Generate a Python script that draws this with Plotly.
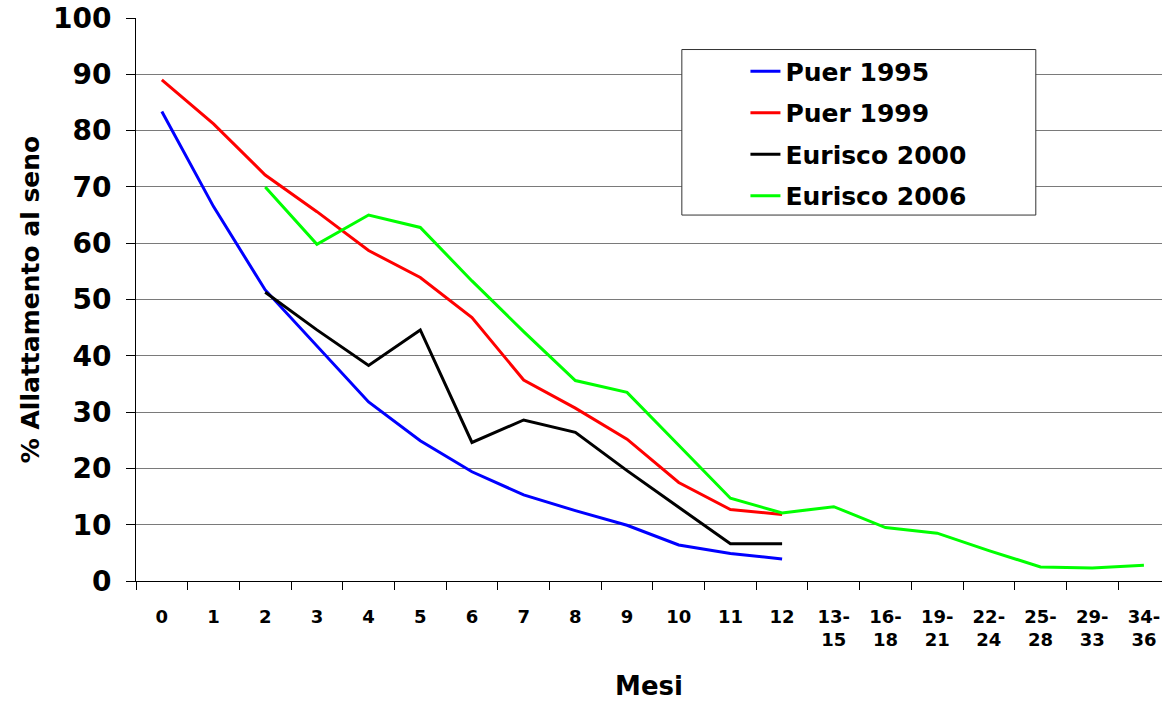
import plotly.graph_objects as go

# ── Data ──────────────────────────────────────────────────────────────────────
mesi = [str(i) for i in range(13)] + [
    "13-<br>15", "16-<br>18", "19-<br>21", "22-<br>24",
    "25-<br>28", "29-<br>33", "34-<br>36",
]

puer_1995 = [83.4, 66.5, 51.7, 41.8, 31.8, 24.9, 19.4, 15.3, 12.5, 9.9, 6.4, 4.9, 3.9]
puer_1999 = [89.0, 81.2, 72.1, 65.6, 58.7, 53.9, 46.8, 35.7, 30.7, 25.2, 17.5, 12.7, 11.8]
eurisco_2000 = [None, None, 51.3, 44.6, 38.3, 44.6, 24.6, 28.6, 26.4, 19.6, 13.1, 6.6, 6.6]
eurisco_2006 = [None, None, 70.0, 59.8, 65.0, 62.8, 53.3, 44.3, 35.6, 33.5, 24.1, 14.7, 12.1,
                13.2, 9.5, 8.5, 5.4, 2.5, 2.3, 2.8]

series = [
    ("Puer 1995", puer_1995, "#0000FF"),
    ("Puer 1999", puer_1999, "#FF0000"),
    ("Eurisco 2000", eurisco_2000, "#000000"),
    ("Eurisco 2006", eurisco_2006, "#00FF00"),
]

# ── Style ─────────────────────────────────────────────────────────────────────
_FONT = "DejaVu Sans, Verdana, sans-serif"
_GRID = "#7a7a7a"

fig = go.Figure()

for name, vals, color in series:
    fig.add_trace(go.Scatter(
        name=name,
        x=mesi[:len(vals)],
        y=vals,
        mode="lines",
        line=dict(color=color, width=3),
        legendgroup=name,
        connectgaps=False,
    ))

fig.update_layout(
    width=1162,
    height=701,
    margin=dict(t=18, b=120, l=136, r=0),
    plot_bgcolor="white",
    paper_bgcolor="white",
    font=dict(family=_FONT, color="black"),
    showlegend=True,
    legend=dict(
        x=0.594, y=0.946, xanchor="left", yanchor="top",
        bgcolor="rgba(0,0,0,0)",
        borderwidth=0,
        font=dict(family=_FONT, size=25, weight="bold", color="black"),
        tracegroupgap=6,
    ),
    xaxis=dict(
        type="category",
        categoryorder="array",
        categoryarray=mesi,
        range=[-0.5, 19.35],
        automargin=False,
        showgrid=False,
        showline=True,
        linecolor="black",
        linewidth=1,
        ticks="outside",
        tickson="boundaries",
        ticklen=8,
        tickcolor="black",
        tickfont=dict(family=_FONT, size=18, weight="bold", color="black"),
        ticklabelstandoff=19,
        title=dict(text="Mesi", font=dict(family=_FONT, size=26, weight="bold"), standoff=30),
        zeroline=False,
    ),
    yaxis=dict(
        range=[0, 100],
        dtick=10,
        automargin=False,
        showgrid=True,
        gridcolor=_GRID,
        gridwidth=1,
        showline=True,
        linecolor="black",
        linewidth=1,
        ticks="outside",
        ticklen=9,
        tickcolor="black",
        tickfont=dict(family=_FONT, size=28, weight="bold", color="black"),
        ticklabelstandoff=9,
        title=dict(text="% Allattamento al seno", font=dict(family=_FONT, size=25, weight="bold"),
                   standoff=6),
        zeroline=False,
    ),
    shapes=[dict(
        type="rect", xref="paper", yref="paper",
        x0=0.532, x1=0.877, y0=0.650, y1=0.944,
        fillcolor="white", line=dict(color="#333", width=1),
        layer="above",
    )],
)

# page body has an 8px default margin; drop it so the figure sits at 0,0
fig.write_html("out.html", config={"displayModeBar": False},
               post_script="document.body.style.margin='0';")
